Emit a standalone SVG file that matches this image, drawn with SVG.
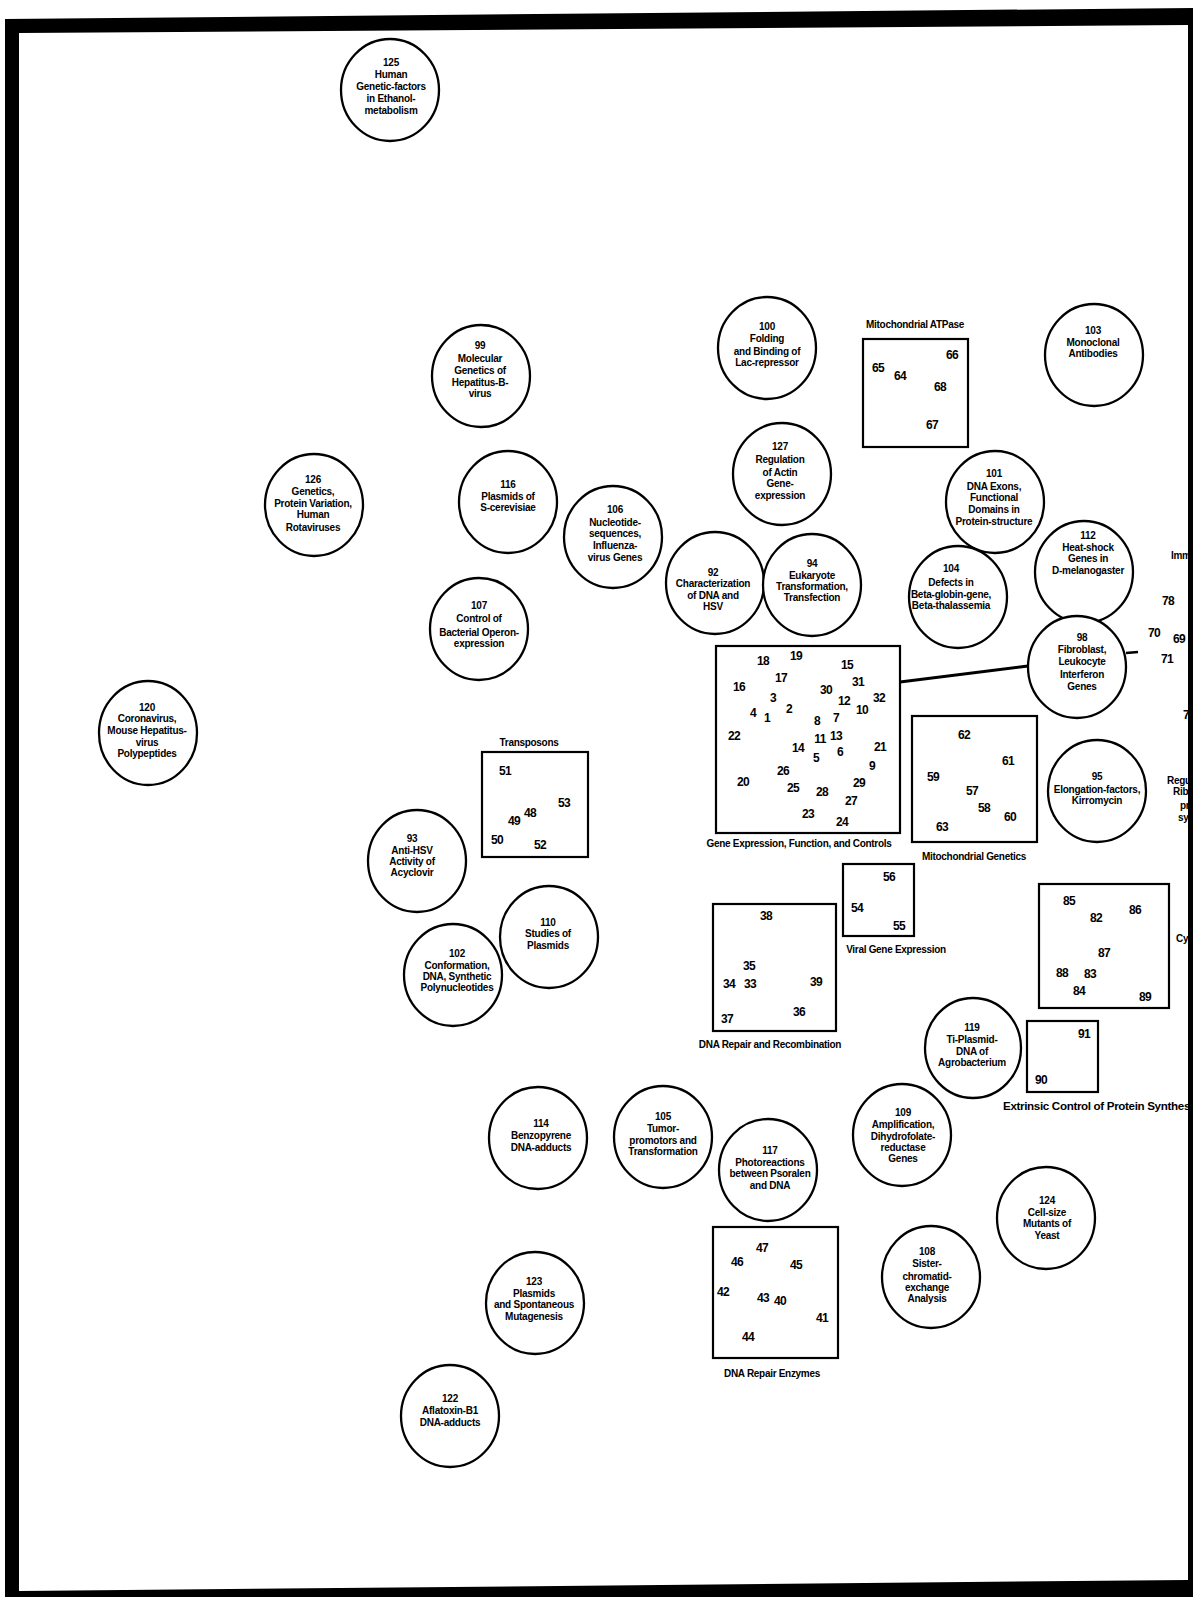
<svg xmlns="http://www.w3.org/2000/svg" width="1193" height="1597" viewBox="0 0 1193 1597">
<style>
.c{fill:#fff;stroke:#000;stroke-width:2.3}
.b{fill:none;stroke:#000;stroke-width:2.2}
.t{font-family:"Liberation Sans",Arial,sans-serif;font-weight:bold;font-size:10px;letter-spacing:-0.25px;text-anchor:middle;fill:#000}
.n{font-family:"Liberation Sans",Arial,sans-serif;font-weight:bold;font-size:12px;letter-spacing:-0.6px;text-anchor:middle;fill:#000}
.l{font-family:"Liberation Sans",Arial,sans-serif;font-weight:bold;font-size:10px;letter-spacing:-0.3px;text-anchor:middle;fill:#000}
.s{text-anchor:start}
</style>
<rect width="1193" height="1597" fill="#fff"/>

<g id="connectors" stroke="#000" fill="none">
<line x1="900" y1="682" x2="1028" y2="666" stroke-width="3"/>
<line x1="1126" y1="653" x2="1138" y2="652" stroke-width="2.5"/>
</g>

<g id="n125"><ellipse class="c" cx="390" cy="90" rx="49" ry="51"/>
<text class="t"><tspan x="391" y="65.5">125</tspan><tspan x="391" y="77.5">Human</tspan><tspan x="391" y="89.5">Genetic-factors</tspan><tspan x="391" y="101.5">in Ethanol-</tspan><tspan x="391" y="113.5">metabolism</tspan></text></g>

<g id="n99"><ellipse class="c" cx="481" cy="376" rx="49" ry="51"/>
<text class="t"><tspan x="480" y="348.5">99</tspan><tspan x="480" y="361.5">Molecular</tspan><tspan x="480" y="373.5">Genetics of</tspan><tspan x="480" y="385.5">Hepatitus-B-</tspan><tspan x="480" y="396.5">virus</tspan></text></g>

<g id="n100"><ellipse class="c" cx="767" cy="348" rx="49" ry="51"/>
<text class="t"><tspan x="767" y="329.5">100</tspan><tspan x="767" y="341.5">Folding</tspan><tspan x="767" y="354.5">and Binding of</tspan><tspan x="767" y="365.5">Lac-repressor</tspan></text></g>

<g id="n127"><ellipse class="c" cx="782" cy="474" rx="49" ry="51"/>
<text class="t"><tspan x="780" y="449.5">127</tspan><tspan x="780" y="462.5">Regulation</tspan><tspan x="780" y="475.5">of Actin</tspan><tspan x="780" y="486.5">Gene-</tspan><tspan x="780" y="498.5">expression</tspan></text></g>

<g id="n116"><ellipse class="c" cx="508" cy="502" rx="49" ry="51"/>
<text class="t"><tspan x="508" y="487.5">116</tspan><tspan x="508" y="499.5">Plasmids of</tspan><tspan x="508" y="510.5">S-cerevisiae</tspan></text></g>

<g id="n106"><ellipse class="c" cx="613" cy="537" rx="49" ry="51"/>
<text class="t"><tspan x="615" y="512.5">106</tspan><tspan x="615" y="525.5">Nucleotide-</tspan><tspan x="615" y="536.5">sequences,</tspan><tspan x="615" y="548.5">Influenza-</tspan><tspan x="615" y="560.5">virus Genes</tspan></text></g>

<g id="n92"><ellipse class="c" cx="715" cy="583" rx="49" ry="51"/>
<text class="t"><tspan x="713" y="575.5">92</tspan><tspan x="713" y="586.5">Characterization</tspan><tspan x="713" y="598.5">of DNA and</tspan><tspan x="713" y="609.5">HSV</tspan></text></g>

<g id="n94"><ellipse class="c" cx="812" cy="585" rx="49" ry="51"/>
<text class="t"><tspan x="812" y="566.5">94</tspan><tspan x="812" y="578.5">Eukaryote</tspan><tspan x="812" y="589.5">Transformation,</tspan><tspan x="812" y="600.5">Transfection</tspan></text></g>

<g id="n107"><ellipse class="c" cx="479" cy="629" rx="49" ry="51"/>
<text class="t"><tspan x="479" y="608.5">107</tspan><tspan x="479" y="621.5">Control of</tspan><tspan x="479" y="635.5">Bacterial Operon-</tspan><tspan x="479" y="646.5">expression</tspan></text></g>

<g id="n103"><ellipse class="c" cx="1094" cy="355" rx="49" ry="51"/>
<text class="t"><tspan x="1093" y="333.5">103</tspan><tspan x="1093" y="345.5">Monoclonal</tspan><tspan x="1093" y="356.5">Antibodies</tspan></text></g>

<g id="n101"><ellipse class="c" cx="995" cy="502" rx="49" ry="51"/>
<text class="t"><tspan x="994" y="476.5">101</tspan><tspan x="994" y="489.5">DNA Exons,</tspan><tspan x="994" y="500.5">Functional</tspan><tspan x="994" y="512.5">Domains in</tspan><tspan x="994" y="524.5">Protein-structure</tspan></text></g>

<g id="n112"><ellipse class="c" cx="1084" cy="572" rx="49" ry="51"/>
<text class="t"><tspan x="1088" y="538.5">112</tspan><tspan x="1088" y="550.5">Heat-shock</tspan><tspan x="1088" y="561.5">Genes in</tspan><tspan x="1088" y="573.5">D-melanogaster</tspan></text></g>

<g id="n104"><ellipse class="c" cx="958" cy="597" rx="49" ry="51"/>
<text class="t"><tspan x="951" y="571.5">104</tspan><tspan x="951" y="585.5">Defects in</tspan><tspan x="951" y="597.5">Beta-globin-gene,</tspan><tspan x="951" y="608.5">Beta-thalassemia</tspan></text></g>

<g id="n98"><ellipse class="c" cx="1077" cy="667" rx="49" ry="51"/>
<text class="t"><tspan x="1082" y="640.5">98</tspan><tspan x="1082" y="652.5">Fibroblast,</tspan><tspan x="1082" y="664.5">Leukocyte</tspan><tspan x="1082" y="677.5">Interferon</tspan><tspan x="1082" y="689.5">Genes</tspan></text></g>

<g id="n95"><ellipse class="c" cx="1097" cy="791" rx="49" ry="51"/>
<text class="t"><tspan x="1097" y="779.5">95</tspan><tspan x="1097" y="792.5">Elongation-factors,</tspan><tspan x="1097" y="803.5">Kirromycin</tspan></text></g>

<g id="n126"><ellipse class="c" cx="314" cy="505" rx="49" ry="51"/>
<text class="t"><tspan x="313" y="482.5">126</tspan><tspan x="313" y="494.5">Genetics,</tspan><tspan x="313" y="506.5">Protein Variation,</tspan><tspan x="313" y="517.5">Human</tspan><tspan x="313" y="530.5">Rotaviruses</tspan></text></g>

<g id="n120"><ellipse class="c" cx="148" cy="733" rx="49" ry="52"/>
<text class="t"><tspan x="147" y="710.5">120</tspan><tspan x="147" y="721.5">Coronavirus,</tspan><tspan x="147" y="733.5">Mouse Hepatitus-</tspan><tspan x="147" y="745.5">virus</tspan><tspan x="147" y="756.5">Polypeptides</tspan></text></g>

<g id="n93"><ellipse class="c" cx="417" cy="861" rx="49" ry="51"/>
<text class="t"><tspan x="412" y="841.5">93</tspan><tspan x="412" y="853.5">Anti-HSV</tspan><tspan x="412" y="864.5">Activity of</tspan><tspan x="412" y="875.5">Acyclovir</tspan></text></g>

<g id="n110"><ellipse class="c" cx="549" cy="937" rx="49" ry="51"/>
<text class="t"><tspan x="548" y="925.5">110</tspan><tspan x="548" y="936.5">Studies of</tspan><tspan x="548" y="948.5">Plasmids</tspan></text></g>

<g id="n102"><ellipse class="c" cx="453" cy="975" rx="49" ry="51"/>
<text class="t"><tspan x="457" y="956.5">102</tspan><tspan x="457" y="968.5">Conformation,</tspan><tspan x="457" y="979.5">DNA, Synthetic</tspan><tspan x="457" y="990.5">Polynucleotides</tspan></text></g>

<g id="n119"><ellipse class="c" cx="973" cy="1048" rx="48" ry="50"/>
<text class="t"><tspan x="972" y="1030.5">119</tspan><tspan x="972" y="1042.5">Ti-Plasmid-</tspan><tspan x="972" y="1054.5">DNA of</tspan><tspan x="972" y="1065.5">Agrobacterium</tspan></text></g>

<g id="n109"><ellipse class="c" cx="902" cy="1135" rx="49" ry="51"/>
<text class="t"><tspan x="903" y="1115.5">109</tspan><tspan x="903" y="1127.5">Amplification,</tspan><tspan x="903" y="1139.5">Dihydrofolate-</tspan><tspan x="903" y="1150.5">reductase</tspan><tspan x="903" y="1161.5">Genes</tspan></text></g>

<g id="n105"><ellipse class="c" cx="663" cy="1137" rx="49" ry="51"/>
<text class="t"><tspan x="663" y="1119.5">105</tspan><tspan x="663" y="1131.5">Tumor-</tspan><tspan x="663" y="1143.5">promotors and</tspan><tspan x="663" y="1154.5">Transformation</tspan></text></g>

<g id="n114"><ellipse class="c" cx="538" cy="1138" rx="49" ry="51"/>
<text class="t"><tspan x="541" y="1126.5">114</tspan><tspan x="541" y="1138.5">Benzopyrene</tspan><tspan x="541" y="1150.5">DNA-adducts</tspan></text></g>

<g id="n117"><ellipse class="c" cx="768" cy="1170" rx="49" ry="51"/>
<text class="t"><tspan x="770" y="1153.5">117</tspan><tspan x="770" y="1165.5">Photoreactions</tspan><tspan x="770" y="1176.5">between Psoralen</tspan><tspan x="770" y="1188.5">and DNA</tspan></text></g>

<g id="n108"><ellipse class="c" cx="931" cy="1277" rx="49" ry="51"/>
<text class="t"><tspan x="927" y="1254.5">108</tspan><tspan x="927" y="1266.5">Sister-</tspan><tspan x="927" y="1279.5">chromatid-</tspan><tspan x="927" y="1290.5">exchange</tspan><tspan x="927" y="1301.5">Analysis</tspan></text></g>

<g id="n124"><ellipse class="c" cx="1046" cy="1218" rx="49" ry="51"/>
<text class="t"><tspan x="1047" y="1203.5">124</tspan><tspan x="1047" y="1215.5">Cell-size</tspan><tspan x="1047" y="1226.5">Mutants of</tspan><tspan x="1047" y="1238.5">Yeast</tspan></text></g>

<g id="n123"><ellipse class="c" cx="535" cy="1303" rx="49" ry="51"/>
<text class="t"><tspan x="534" y="1284.5">123</tspan><tspan x="534" y="1296.5">Plasmids</tspan><tspan x="534" y="1307.5">and Spontaneous</tspan><tspan x="534" y="1319.5">Mutagenesis</tspan></text></g>

<g id="n122"><ellipse class="c" cx="450" cy="1416" rx="49" ry="51"/>
<text class="t"><tspan x="450" y="1401.5">122</tspan><tspan x="450" y="1413.5">Aflatoxin-B1</tspan><tspan x="450" y="1425.5">DNA-adducts</tspan></text></g>

<g id="box-mito-atpase"><rect class="b" x="863" y="339" width="105" height="108"/>
<text class="l" x="915" y="328">Mitochondrial ATPase</text>
<text class="n"><tspan x="878" y="372.3">65</tspan><tspan x="900" y="380.3">64</tspan><tspan x="952" y="359.3">66</tspan><tspan x="940" y="391.3">68</tspan><tspan x="932" y="429.3">67</tspan></text></g>

<g id="box-gene-expression"><rect class="b" x="716" y="646" width="184" height="187"/>
<text class="l" x="799" y="847">Gene Expression, Function, and Controls</text>
<text class="n"><tspan x="763" y="665.3">18</tspan><tspan x="796" y="660.3">19</tspan><tspan x="847" y="669.3">15</tspan><tspan x="781" y="682.3">17</tspan><tspan x="739" y="691.3">16</tspan><tspan x="826" y="694.3">30</tspan><tspan x="858" y="686.3">31</tspan><tspan x="773" y="702.3">3</tspan><tspan x="844" y="705.3">12</tspan><tspan x="879" y="702.3">32</tspan><tspan x="753" y="717.3">4</tspan><tspan x="767" y="722.3">1</tspan><tspan x="789" y="713.3">2</tspan><tspan x="817" y="725.3">8</tspan><tspan x="836" y="722.3">7</tspan><tspan x="862" y="714.3">10</tspan><tspan x="734" y="740.3">22</tspan><tspan x="820" y="743.3">11</tspan><tspan x="836" y="740.3">13</tspan><tspan x="798" y="752.3">14</tspan><tspan x="816" y="762.3">5</tspan><tspan x="840" y="756.3">6</tspan><tspan x="880" y="751.3">21</tspan><tspan x="872" y="770.3">9</tspan><tspan x="783" y="775.3">26</tspan><tspan x="743" y="786.3">20</tspan><tspan x="793" y="792.3">25</tspan><tspan x="822" y="796.3">28</tspan><tspan x="859" y="787.3">29</tspan><tspan x="851" y="805.3">27</tspan><tspan x="808" y="818.3">23</tspan><tspan x="842" y="826.3">24</tspan></text></g>

<g id="box-mito-genetics"><rect class="b" x="912" y="716" width="125" height="126"/>
<text class="l" x="974" y="860">Mitochondrial Genetics</text>
<text class="n"><tspan x="964" y="739.3">62</tspan><tspan x="1008" y="765.3">61</tspan><tspan x="933" y="781.3">59</tspan><tspan x="972" y="795.3">57</tspan><tspan x="984" y="812.3">58</tspan><tspan x="1010" y="821.3">60</tspan><tspan x="942" y="831.3">63</tspan></text></g>

<g id="box-transposons"><rect class="b" x="482" y="752" width="106" height="105"/>
<text class="l" x="529" y="746">Transposons</text>
<text class="n"><tspan x="505" y="775.3">51</tspan><tspan x="564" y="807.3">53</tspan><tspan x="530" y="817.3">48</tspan><tspan x="514" y="825.3">49</tspan><tspan x="497" y="844.3">50</tspan><tspan x="540" y="849.3">52</tspan></text></g>

<g id="box-viral"><rect class="b" x="843" y="864" width="71" height="72"/>
<text class="l" x="896" y="953">Viral Gene Expression</text>
<text class="n"><tspan x="889" y="881.3">56</tspan><tspan x="857" y="912.3">54</tspan><tspan x="899" y="930.3">55</tspan></text></g>

<g id="box-dna-repair-recomb"><rect class="b" x="713" y="904" width="123" height="127"/>
<text class="l" x="770" y="1048">DNA Repair and Recombination</text>
<text class="n"><tspan x="766" y="920.3">38</tspan><tspan x="749" y="970.3">35</tspan><tspan x="729" y="988.3">34</tspan><tspan x="750" y="988.3">33</tspan><tspan x="816" y="986.3">39</tspan><tspan x="799" y="1016.3">36</tspan><tspan x="727" y="1023.3">37</tspan></text></g>

<g id="box-cyto"><rect class="b" x="1039" y="884" width="130" height="124"/>
<text class="l s" x="1176" y="942">Cy</text>
<text class="n"><tspan x="1069" y="905.3">85</tspan><tspan x="1096" y="922.3">82</tspan><tspan x="1135" y="914.3">86</tspan><tspan x="1104" y="957.3">87</tspan><tspan x="1062" y="977.3">88</tspan><tspan x="1090" y="978.3">83</tspan><tspan x="1079" y="995.3">84</tspan><tspan x="1145" y="1001.3">89</tspan></text></g>

<g id="box-extrinsic"><rect class="b" x="1027" y="1021" width="71" height="71"/>
<text class="l s" x="1003" y="1110" textLength="196" lengthAdjust="spacingAndGlyphs">Extrinsic Control of Protein Synthesis</text>
<text class="n"><tspan x="1084" y="1038.3">91</tspan><tspan x="1041" y="1084.3">90</tspan></text></g>

<g id="box-dna-repair-enzymes"><rect class="b" x="713" y="1227" width="125" height="131"/>
<text class="l" x="772" y="1377">DNA Repair Enzymes</text>
<text class="n"><tspan x="762" y="1252.3">47</tspan><tspan x="737" y="1266.3">46</tspan><tspan x="796" y="1269.3">45</tspan><tspan x="723" y="1296.3">42</tspan><tspan x="763" y="1302.3">43</tspan><tspan x="780" y="1305.3">40</tspan><tspan x="822" y="1322.3">41</tspan><tspan x="748" y="1341.3">44</tspan></text></g>

<g id="box-immunology">
<text class="l s" x="1171" y="559">Imm</text>
<text class="n"><tspan x="1168" y="605.3">78</tspan><tspan x="1154" y="637.3">70</tspan><tspan x="1179" y="643.3">69</tspan><tspan x="1167" y="663.3">71</tspan></text>
<text class="n s" x="1183" y="719.3">7</text>
</g>

<g id="label-ribosomal">
<text class="l s" x="1167" y="783.5">Regu</text>
<text class="l s" x="1173" y="794.5">Ribo</text>
<text class="l s" x="1180" y="808.5">pr</text>
<text class="l s" x="1178" y="820.5">sy</text>
</g>

<path id="frame" fill="#000" fill-rule="evenodd" d="M5,19 L1193,8 L1193,1597 L5,1597 Z M19,33 L1188,25 L1188,1580 L19,1591 Z"/>
</svg>
